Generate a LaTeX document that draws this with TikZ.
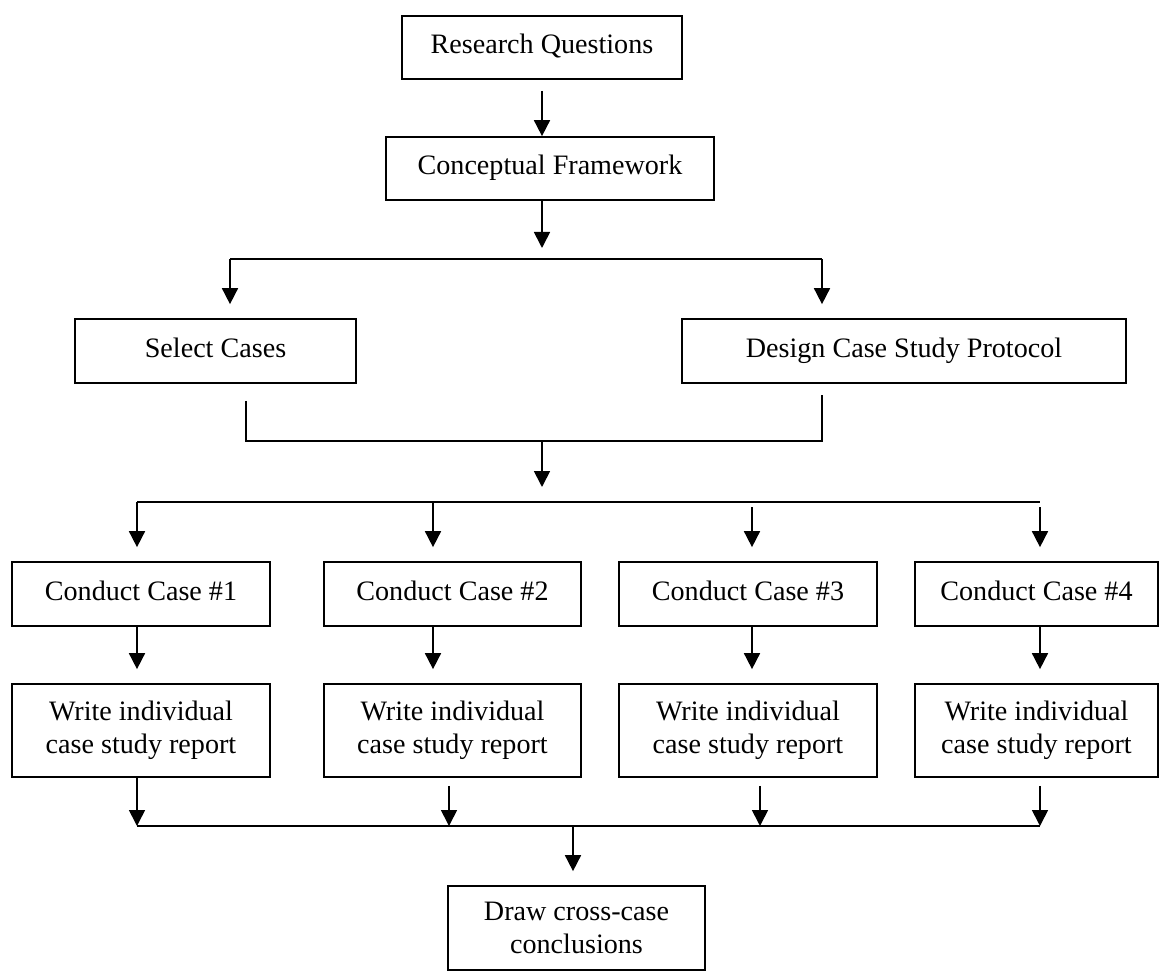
\documentclass[tikz,border=0pt]{standalone}
\usepackage{fontspec}
\setmainfont{Liberation Serif}
\usepackage{tikz}
\usetikzlibrary{arrows.meta, calc}

\tikzset{
  stepbox/.style={draw, line width=1.2pt, align=center, inner sep=0pt,
    font=\fontsize{20}{23.5}\selectfont},
  onerow/.style={stepbox, text height=13.5pt, text depth=4.4pt},
  arr/.style={-{Triangle[length=0.4cm, width=0.4cm]}, line width=1.2pt},
  wire/.style={line width=1.2pt}
}

\begin{document}
\begin{tikzpicture}[x=0.025cm, y=-0.025cm]
  \useasboundingbox (0,0) rectangle (1160,974);
  % Top of the chain
  \node[onerow, minimum width=7cm, minimum height=1.575cm] (rq) at (542,47.5) {Research Questions};
  \node[onerow, minimum width=8.2cm, minimum height=1.575cm] (cf) at (550,168.5) {Conceptual Framework};
  \node[onerow, minimum width=7.025cm, minimum height=1.6cm] (sel) at (215.5,351) {Select Cases};
  \node[onerow, minimum width=11.1cm, minimum height=1.6cm] (dsg) at (904,351) {Design Case Study Protocol};
  % Four cases
  \foreach \n/\x/\w in {1/141/6.45, 2/452.5/6.425, 3/748/6.45, 4/1036.5/6.075} {
    \node[onerow, minimum width=\w cm, minimum height=1.6cm] (c\n) at (\x,594) {Conduct Case \#\n};
    \node[stepbox, minimum width=\w cm, minimum height=2.325cm] (w\n) at (\x,730.5) {Write individual\\case study report};
  }
  \node[stepbox, minimum width=6.425cm, minimum height=2.1cm] (fin) at (576.5,928) {Draw cross-case\\conclusions};

  % Junction points
  \coordinate (fork) at (542,259);
  \coordinate (forkL) at (230,259);
  \coordinate (forkR) at (822,259);
  \coordinate (joinL) at (246,441);
  \coordinate (joinR) at (822,441);
  \coordinate (join) at (542,441);
  \coordinate (rowL) at (137,502);
  \coordinate (rowR) at (1040,502);
  \coordinate (mergeL) at (137,826);
  \coordinate (mergeR) at (1040,826);
  \coordinate (mergeM) at (573,826);

  % Questions -> framework -> two branches
  \draw[arr] ($(rq.south)+(0,11)$) -- (rq.south |- cf.north);
  \draw[arr] (fork |- cf.south) -- ($(fork)+(0,-11)$);
  \draw[wire] (forkL) -- (forkR);
  \draw[arr] (forkL) -- ($(forkL |- sel.north)+(0,-14)$);
  \draw[arr] (forkR) -- ($(forkR |- dsg.north)+(0,-14)$);
  % Branches join again
  \draw[wire] ($(joinL |- sel.south)+(0,17)$) -- (joinL) -- (joinR) -- ($(joinR |- dsg.south)+(0,11)$);
  \draw[arr] (join) -- ($(join)+(0,46)$);
  \draw[wire] (rowL) -- (rowR);
  % Down into each case
  \foreach \x/\s/\n in {137/0/1, 433/0/2, 752/5/3, 1040/5/4} {
    \draw[arr] (\x,502+\s) -- ($(\x,0 |- c\n.north)+(0,-14)$);
    \draw[arr] (\x,0 |- c\n.south) -- ($(\x,0 |- w\n.north)+(0,-14)$);
  }
  % Reports merge into conclusions
  \foreach \x/\s/\n in {137/0/1, 449/8/2, 760/8/3, 1040/8/4}
    \draw[arr] ($(\x,0 |- w\n.south)+(0,\s)$) -- (\x,826);
  \draw[wire] (mergeL) -- (mergeR);
  \draw[arr] (mergeM) -- ($(mergeM |- fin.north)+(0,-14)$);
\end{tikzpicture}
\end{document}
